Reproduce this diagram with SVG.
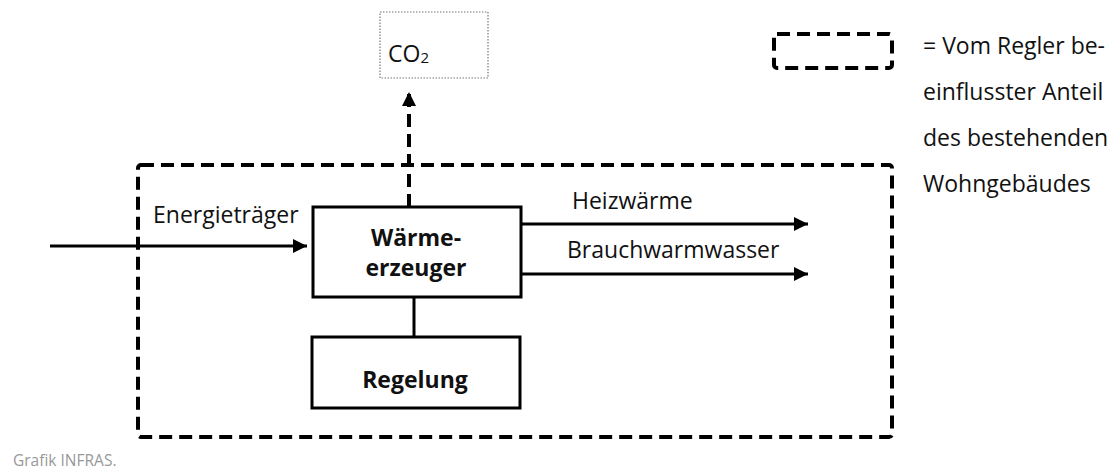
<svg xmlns="http://www.w3.org/2000/svg" width="1112" height="470" viewBox="0 0 1112 470">
<defs>
<style>
.t{font-family:"Open Sans","Liberation Sans",sans-serif;font-size:23px;fill:#111}
.b{font-family:"Open Sans","Liberation Sans",sans-serif;font-size:23px;font-weight:bold;fill:#111}
.box{fill:#fff;stroke:#000;stroke-width:3}
.dash{fill:none;stroke:#000;stroke-width:4;stroke-dasharray:13 7}
.ln{stroke:#000;stroke-width:3;fill:none}
</style>
<marker id="ah" markerWidth="16" markerHeight="16" refX="14" refY="7" orient="auto" markerUnits="userSpaceOnUse">
<path d="M0,0 L14,7 L0,14 Z" fill="#000"/>
</marker>
</defs>
<rect width="1112" height="470" fill="#fff"/>
<g id="system-boundary">
<rect x="138" y="165" width="754" height="272" rx="3" class="dash"/>
</g>
<g id="legend">
<rect x="774" y="34" width="118" height="34" rx="3" class="dash"/>
<text class="t" x="923" y="54">= Vom Regler be-</text>
<text class="t" x="923" y="100">einflusster Anteil</text>
<text class="t" x="923" y="146">des bestehenden</text>
<text class="t" x="923" y="192">Wohngebäudes</text>
</g>
<g id="connectors">
<line x1="409" y1="207" x2="409" y2="92" stroke="#000" stroke-width="4" stroke-dasharray="13 7" marker-end="url(#ah)"/>
<line x1="50" y1="246" x2="307" y2="246" class="ln" marker-end="url(#ah)"/>
<line x1="521" y1="224" x2="808" y2="224" class="ln" marker-end="url(#ah)"/>
<line x1="521" y1="274" x2="808" y2="274" class="ln" marker-end="url(#ah)"/>
<line x1="414" y1="297" x2="414" y2="337" class="ln"/>
<text class="t" x="153" y="223">Energieträger</text>
<text class="t" x="572" y="209">Heizwärme</text>
<text class="t" x="567" y="258">Brauchwarmwasser</text>
</g>
<g id="co2">
<rect x="380" y="12" width="108" height="66" fill="#fff" stroke="#777" stroke-width="1.2" stroke-dasharray="1.5 1.5"/>
<text class="t" x="388" y="62">CO<tspan style="font-size:15px" dy="1">2</tspan></text>
</g>
<g id="waermeerzeuger">
<rect x="313" y="207" width="208" height="90" class="box"/>
<text class="b" x="416" y="246" text-anchor="middle">Wärme-</text>
<text class="b" x="416" y="276" text-anchor="middle">erzeuger</text>
</g>
<g id="regelung">
<rect x="312" y="337" width="208" height="71" class="box"/>
<text class="b" x="415" y="388" text-anchor="middle">Regelung</text>
</g>
<text x="13" y="466" font-family="Open Sans, Liberation Sans, sans-serif" font-size="15.5" fill="#999">Grafik INFRAS.</text>
</svg>
